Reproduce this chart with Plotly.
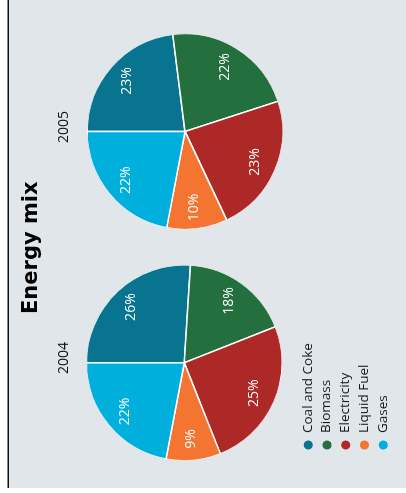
import plotly.graph_objects as go

# ---- data -------------------------------------------------------------
years = ["2004", "2005"]
sources = ["Coal and Coke", "Biomass", "Electricity", "Liquid Fuel", "Gases"]
share_2004 = [26, 18, 25, 9, 22]
share_2005 = [23, 22, 23, 10, 22]
colors = ["#08748f", "#236f3d", "#ad2927", "#f47431", "#00afdb"]
title_text = "Energy mix"

# ---- canvas (laid out landscape, the page turns it a quarter turn) ----
W, H = 493, 406
BG = "#e1e6ea"
FONT = "Open Sans"
PIE_R = 98
PIE_CENTERS = [(130.2, 184.3), (361.5, 185.0)]   # px from top-left
LABEL_R = 0.78                                   # share labels, fraction of radius


def fx(u):
    return u / W


def fy(v):
    return 1 - v / H


def slice_geometry(vals):
    """Mid-angle and angular width (degrees) of each pie slice."""
    total = float(sum(vals))
    acc, mids, widths = 0.0, [], []
    for v in vals:
        mids.append(360.0 * (acc + v / 2.0) / total)
        widths.append(360.0 * v / total)
        acc += v
    return mids, widths


fig = go.Figure()

for i, (year, shares) in enumerate(zip(years, [share_2004, share_2005])):
    cu, cv = PIE_CENTERS[i]
    dom_x = [fx(cu - PIE_R), fx(cu + PIE_R)]
    dom_y = [fy(cv + PIE_R), fy(cv - PIE_R)]
    polar_name = "polar" if i == 0 else "polar2"
    mids, widths = slice_geometry(shares)

    # pie wedges, clockwise from 12 o'clock
    fig.add_trace(go.Barpolar(
        r=[1] * len(shares), theta=mids, width=widths,
        marker=dict(color=colors, line=dict(color="white", width=1.5)),
        customdata=sources, hovertemplate="%{customdata}<extra></extra>",
        subplot=polar_name, showlegend=False,
    ))
    # share labels inside the wedges
    fig.add_trace(go.Scatterpolar(
        r=[LABEL_R] * len(shares), theta=mids,
        text=[f"{s}%" for s in shares], mode="text",
        textfont=dict(family=FONT, size=14, color="white"),
        subplot=polar_name, showlegend=False, hoverinfo="skip",
        cliponaxis=False,
    ))
    polar_cfg = dict(
        domain=dict(x=dom_x, y=dom_y), bgcolor="rgba(0,0,0,0)",
        radialaxis=dict(range=[0, 1], visible=False),
        angularaxis=dict(rotation=90, direction="clockwise", visible=False),
    )
    fig.update_layout(**{polar_name: polar_cfg})
    fig.add_annotation(
        text=year, x=fx(cu + 4.5), y=fy(63), xref="paper", yref="paper",
        showarrow=False, xanchor="center", yanchor="middle",
        font=dict(family=FONT, size=14, color="#111111"),
    )

# ---- legend: dots and names on a hidden helper axis -------------------
LEGEND_TEXT_GAP = 12
fig.add_trace(go.Scatter(
    x=[0] * len(sources), y=sources, mode="markers",
    marker=dict(color=colors, size=9, line=dict(width=0)),
    cliponaxis=False, showlegend=False, hoverinfo="skip",
))
fig.add_trace(go.Scatter(
    x=[LEGEND_TEXT_GAP] * len(sources), y=sources, mode="text",
    text=sources, textposition="middle right",
    textfont=dict(family=FONT, size=13.5, color="#1a1a1a"),
    cliponaxis=False, showlegend=False, hoverinfo="skip",
))

fig.add_annotation(
    text=f"<b>{title_text}</b>", x=fx(245.5), y=fy(30), xref="paper", yref="paper",
    showarrow=False, xanchor="center", yanchor="middle",
    font=dict(family="DejaVu Sans", size=21, color="#000000"),
)

fig.update_layout(
    width=W, height=H, margin=dict(l=0, r=0, t=0, b=0),
    paper_bgcolor="white", plot_bgcolor="rgba(0,0,0,0)",
    xaxis=dict(domain=[fx(48), fx(248)], range=[0, 200], visible=False,
               fixedrange=True),
    yaxis=dict(domain=[fy(383.3), fy(308.3)], type="category",
               categoryorder="array", categoryarray=sources,
               range=[len(sources) - 1, 0], visible=False, fixedrange=True),
    shapes=[
        dict(type="rect", xref="paper", yref="paper", layer="below",
             x0=fx(5), x1=1, y0=0, y1=fy(9), fillcolor=BG,
             line=dict(width=0)),
        dict(type="line", xref="paper", yref="paper", layer="above",
             x0=fx(5), x1=1, y0=fy(8.2), y1=fy(8.2),
             line=dict(color="#111111", width=1.6)),
    ],
)

# turn the landscape figure a quarter turn so it reads bottom-to-top
rotate_js = """
var gd = document.getElementById('{plot_id}');
document.documentElement.style.overflow = 'hidden';
document.body.style.overflow = 'hidden';
document.body.style.margin = '0';
gd.style.position = 'fixed';
gd.style.left = '0px';
gd.style.top = '0px';
gd.style.transformOrigin = '0 0';
gd.style.transform = 'translate(0px, %dpx) rotate(-90deg)';
""" % W

fig.write_html("out.html", post_script=rotate_js, config={"displayModeBar": False})
